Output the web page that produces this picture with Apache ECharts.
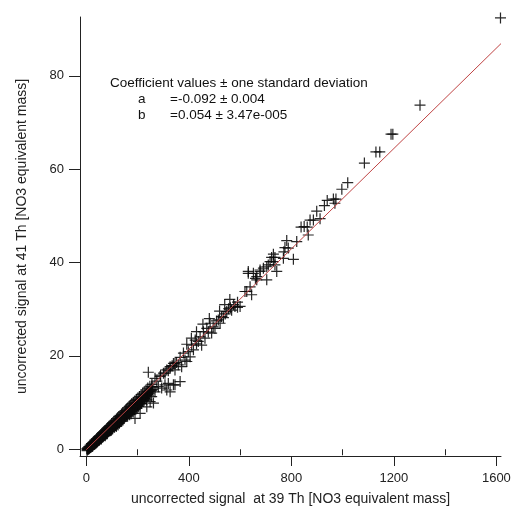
<!DOCTYPE html>
<html>
<head>
<meta charset="utf-8">
<script src="https://cdn.jsdelivr.net/npm/echarts@6/dist/echarts.min.js"></script>
<style>
  html, body { margin: 0; padding: 0; background: #fff; }
  #main { width: 512px; height: 506px; }
</style>
</head>
<body>
<div id="main"></div>
<script>
// 刻度
let xTicks = [0, 400, 800, 1200, 1600];
let xMinorTicks = [200, 600, 1000, 1400];
let yTicks = [0, 20, 40, 60, 80];

// 拟合系数文字
let coefTitle = 'Coefficient values \u00b1 one standard deviation';
let coefNames = ['a', 'b'];
let coefValues = ['=-0.092 \u00b1 0.004', '=0.054 \u00b1 3.47e-005'];

// 拟合线端点 (39 Th, 41 Th)
let fitX = [0, 1618];
let fitY = [-0.09, 86.9];

// 数据：低值密集带
let lowBand = [
  [2, 0.1], [4, 0.0], [5, 0.3], [7, 0.2], [9, 0.5], [10, 0.3], [12, 0.6], [14, 0.5],
  [15, 0.9], [17, 0.7], [19, 0.9], [20, 1.2], [22, 0.9], [24, 1.3], [26, 1.1], [27, 1.5],
  [29, 1.3], [30, 1.0], [31, 1.7], [33, 1.5], [34, 1.9], [36, 1.6], [38, 2.0], [40, 1.8],
  [41, 2.3], [43, 2.1], [45, 2.5], [47, 2.2], [48, 2.7], [50, 2.4], [52, 2.9], [54, 2.6],
  [56, 3.1], [58, 2.8], [60, 3.3], [60, 2.6], [62, 3.0], [63, 3.5], [65, 3.1], [67, 3.7],
  [69, 3.4], [71, 3.9], [73, 3.5], [75, 4.1], [77, 3.8], [79, 4.3], [81, 3.9], [83, 4.6],
  [85, 4.2], [87, 4.8], [89, 4.4], [90, 4.1], [91, 5.0], [93, 4.6], [95, 5.2], [97, 4.9],
  [99, 5.5], [102, 5.0], [104, 5.7], [106, 5.3], [108, 6.0], [111, 5.5], [113, 6.2],
  [115, 5.8], [118, 6.5], [120, 6.0], [120, 5.6], [122, 6.7], [125, 6.3], [127, 7.0],
  [130, 6.5], [132, 7.2], [134, 6.8], [137, 7.5], [139, 6.9], [140, 6.4], [142, 7.8],
  [144, 7.3], [147, 8.0], [149, 7.4], [150, 7.2], [152, 8.3], [154, 7.8], [157, 8.6],
  [160, 8.0], [162, 8.9], [165, 8.3], [165, 7.8], [168, 9.2], [170, 8.6], [173, 9.5],
  [176, 8.9], [178, 9.8], [180, 8.6], [181, 9.1], [184, 10.1], [185, 8.9], [187, 9.4],
  [190, 10.4], [192, 9.7], [196, 10.7], [199, 10.0], [200, 9.5], [202, 11.0], [205, 10.4],
  [208, 11.3], [211, 10.5], [214, 11.7], [215, 9.8], [217, 11.0], [220, 12.0], [223, 11.3],
  [225, 10.4], [226, 12.3], [230, 11.6], [233, 12.7], [237, 12.0], [240, 13.1], [244, 12.4],
  [248, 13.5], [252, 12.9], [256, 13.9], [260, 13.3]
];

// 数据：密集带下缘
let lowBandLower = [
  [8, 0.0], [16, 0.4], [23, 0.6], [32, 1.1], [39, 1.4], [46, 1.8], [53, 2.1], [61, 2.5],
  [68, 2.9], [76, 3.3], [84, 3.7], [92, 4.0], [100, 4.5], [107, 4.8], [114, 5.1], [121, 5.4],
  [128, 5.9], [135, 6.2], [143, 6.6], [151, 7.0], [158, 7.3], [166, 7.6], [172, 8.0],
  [179, 8.3], [188, 8.7], [195, 9.1], [203, 9.5], [212, 9.9], [219, 10.4], [228, 10.9],
  [235, 11.5], [245, 11.9]
];

// 数据：密集带中间
let lowBandFill = [
  [3, -0.3], [6, 0.0], [11, 0.1], [13, 0.2], [18, 0.4], [21, 0.6], [25, 0.7], [28, 0.9],
  [35, 1.2], [37, 1.3], [42, 1.5], [44, 1.7], [49, 1.9], [51, 2.0], [55, 2.3], [57, 2.4],
  [59, 2.2], [64, 2.8], [66, 2.7], [70, 3.0], [72, 3.1], [74, 2.9], [78, 3.5], [80, 3.4],
  [82, 3.3], [86, 3.9], [88, 3.8], [94, 4.1], [96, 4.3], [98, 4.1], [101, 4.6], [103, 4.4],
  [105, 4.9], [109, 5.0], [110, 4.7], [112, 5.3], [116, 5.2], [117, 4.9], [119, 5.5],
  [123, 5.7], [124, 5.2], [126, 5.9], [129, 5.6], [131, 6.2], [133, 5.9], [136, 6.4],
  [138, 6.0], [141, 6.8], [145, 6.5], [146, 6.9], [148, 6.7], [153, 7.3], [155, 7.0],
  [156, 7.5], [159, 7.4], [161, 7.1], [163, 7.9], [167, 7.7], [169, 7.4], [171, 8.2],
  [174, 8.0], [175, 7.6], [177, 8.6], [182, 8.4], [183, 8.0], [186, 8.9], [189, 8.5],
  [191, 9.2], [194, 9.0], [197, 9.4], [198, 8.8], [201, 9.9], [204, 9.2], [207, 10.2],
  [209, 9.7], [213, 10.5], [216, 10.3], [218, 10.8], [221, 10.6], [224, 11.0], [227, 11.2],
  [229, 10.8], [232, 11.7], [234, 11.3], [238, 11.8], [241, 12.2], [243, 11.6], [246, 12.5],
  [250, 12.3], [254, 12.6], [258, 12.8]
];

// 数据：低值区离群点
let lowOutliers = [
  [190, 6.6], [210, 7.7], [236, 9.1], [249, 10.2], [255, 11.3], [262, 9.9], [236, 10.6],
  [242, 16.5], [255, 13.4], [268, 12.3], [281, 13.4], [294, 13.1], [307, 13.8],
  [314, 12.7], [320, 14.1], [327, 12.3], [340, 13.8], [346, 13.8], [366, 14.5]
];

// 数据：中段
let midBand = [
  [268, 15.2], [275, 14.6], [288, 15.6], [290, 15.9], [301, 16.3], [307, 16.3], [314, 17.0],
  [320, 16.8], [327, 17.4], [327, 17.7], [335, 17.9], [340, 18.4], [346, 17.0], [346, 18.4],
  [352, 18.6], [359, 18.1], [366, 19.7], [372, 17.7], [379, 20.6], [385, 19.1], [392, 18.8],
  [392, 22.5], [398, 20.9], [405, 19.8], [410, 23.8], [411, 22.3], [418, 21.3], [425, 23.4],
  [430, 22.6], [430, 25.2], [437, 23.1], [444, 24.1], [450, 22.3], [455, 26.8], [457, 25.2],
  [463, 23.8], [470, 25.9], [476, 25.1], [480, 28.0], [483, 27.0], [489, 24.9], [495, 26.2],
  [502, 25.9], [508, 27.5], [515, 27.7], [520, 29.6], [522, 27.0], [528, 28.4], [535, 28.2],
  [540, 31.0], [542, 29.0], [548, 29.5], [555, 30.1], [560, 32.1], [562, 30.3], [567, 29.8],
  [575, 31.0], [580, 30.6], [590, 31.5], [590, 30.4], [600, 30.6]
];

// 数据：高值区
let highPoints = [
  [619, 33.8], [626, 33.8], [632, 37.7], [632, 38.1], [639, 34.8], [645, 33.1], [652, 37.7],
  [660, 36.6], [665, 36.3], [665, 37.0], [678, 38.1], [678, 38.4], [691, 38.8], [704, 36.3],
  [704, 39.1], [710, 39.5], [717, 40.2], [723, 41.1], [730, 41.8], [730, 40.2], [736, 41.1],
  [736, 39.5], [743, 38.1], [769, 40.9], [771, 42.3], [775, 43.2], [788, 43.1], [782, 44.7],
  [808, 40.7], [821, 44.5], [838, 47.6], [850, 47.7], [862, 47.6], [866, 45.9], [873, 49.1],
  [886, 49.1], [899, 51.0], [912, 49.4], [929, 52.2], [940, 53.3], [964, 53.6], [974, 53.6],
  [970, 52.7], [997, 55.7], [1020, 57.1], [1085, 61.3], [1130, 63.7], [1145, 63.7],
  [1189, 67.5], [1196, 67.5], [1302, 73.7], [1616, 92.4]
];

let allPoints = lowBand.concat(lowBandLower, lowBandFill, lowOutliers, midBand, highPoints);
let fitData = fitX.map((x, i) => [x, fitY[i]]);

let plusSymbol = 'path://M0,4.45H10V5.55H0Z M4.45,0H5.55V10H4.45Z';
let fontFamily = '"Liberation Sans", Arial, sans-serif';

let chart = echarts.init(document.getElementById('main'));

// 系数文字
let graphics = [{
  type: 'text',
  left: 110,
  top: 76,
  style: { text: coefTitle, font: '13.5px ' + fontFamily, fill: '#111' }
}];
coefNames.forEach((n, i) => {
  graphics.push({
    type: 'text',
    left: 138,
    top: 92 + i * 16,
    style: { text: n, font: '13.5px ' + fontFamily, fill: '#111' }
  });
  graphics.push({
    type: 'text',
    left: 170,
    top: 92 + i * 16,
    style: { text: coefValues[i], font: '13.5px ' + fontFamily, fill: '#111' }
  });
});

chart.setOption({
  animation: false,
  backgroundColor: '#fff',
  grid: {
    left: 80,
    right: 11,
    top: 17,
    bottom: 50,
    containLabel: false,
    outerBoundsMode: 'none'
  },
  xAxis: [
    {
      type: 'value',
      min: -24.6,
      max: 1618,
      name: 'uncorrected signal  at 39 Th [NO3 equivalent mass]',
      nameLocation: 'middle',
      nameGap: 36,
      nameTextStyle: { fontSize: 14, color: '#222', fontFamily: fontFamily },
      axisLine: { show: true, onZero: false, lineStyle: { color: '#222', width: 1 } },
      axisTick: { show: true, inside: false, length: 10, customValues: xTicks, lineStyle: { color: '#222' } },
      axisLabel: {
        customValues: xTicks,
        margin: 16,
        fontSize: 13,
        color: '#222',
        fontFamily: fontFamily,
        formatter: v => String(v)
      },
      splitLine: { show: false }
    },
    {
      type: 'value',
      min: -24.6,
      max: 1618,
      position: 'bottom',
      axisLine: { show: false },
      axisTick: { show: true, length: 6, customValues: xMinorTicks, lineStyle: { color: '#222' } },
      axisLabel: { show: false },
      splitLine: { show: false }
    }
  ],
  yAxis: {
    type: 'value',
    min: -1.44,
    max: 92.6,
    name: 'uncorrected signal at 41 Th [NO3 equivalent mass]',
    nameLocation: 'middle',
    nameGap: 51,
    nameTextStyle: { fontSize: 14, color: '#222', fontFamily: fontFamily },
    axisLine: { show: true, onZero: false, lineStyle: { color: '#222', width: 1 } },
    axisTick: { show: true, length: 11, customValues: yTicks, lineStyle: { color: '#222' } },
    axisLabel: {
      customValues: yTicks,
      margin: 16,
      fontSize: 13,
      color: '#222',
      fontFamily: fontFamily,
      formatter: v => String(v)
    },
    splitLine: { show: false }
  },
  graphic: graphics,
  series: [
    {
      type: 'scatter',
      xAxisIndex: 0,
      data: allPoints,
      symbol: plusSymbol,
      symbolSize: 11,
      clip: false,
      itemStyle: { color: '#0a0a0a', opacity: 0.88 },
      z: 2
    },
    {
      type: 'line',
      xAxisIndex: 0,
      data: fitData,
      symbol: 'none',
      lineStyle: { color: '#c04444', width: 1 },
      z: 3
    }
  ]
});
</script>
</body>
</html>
